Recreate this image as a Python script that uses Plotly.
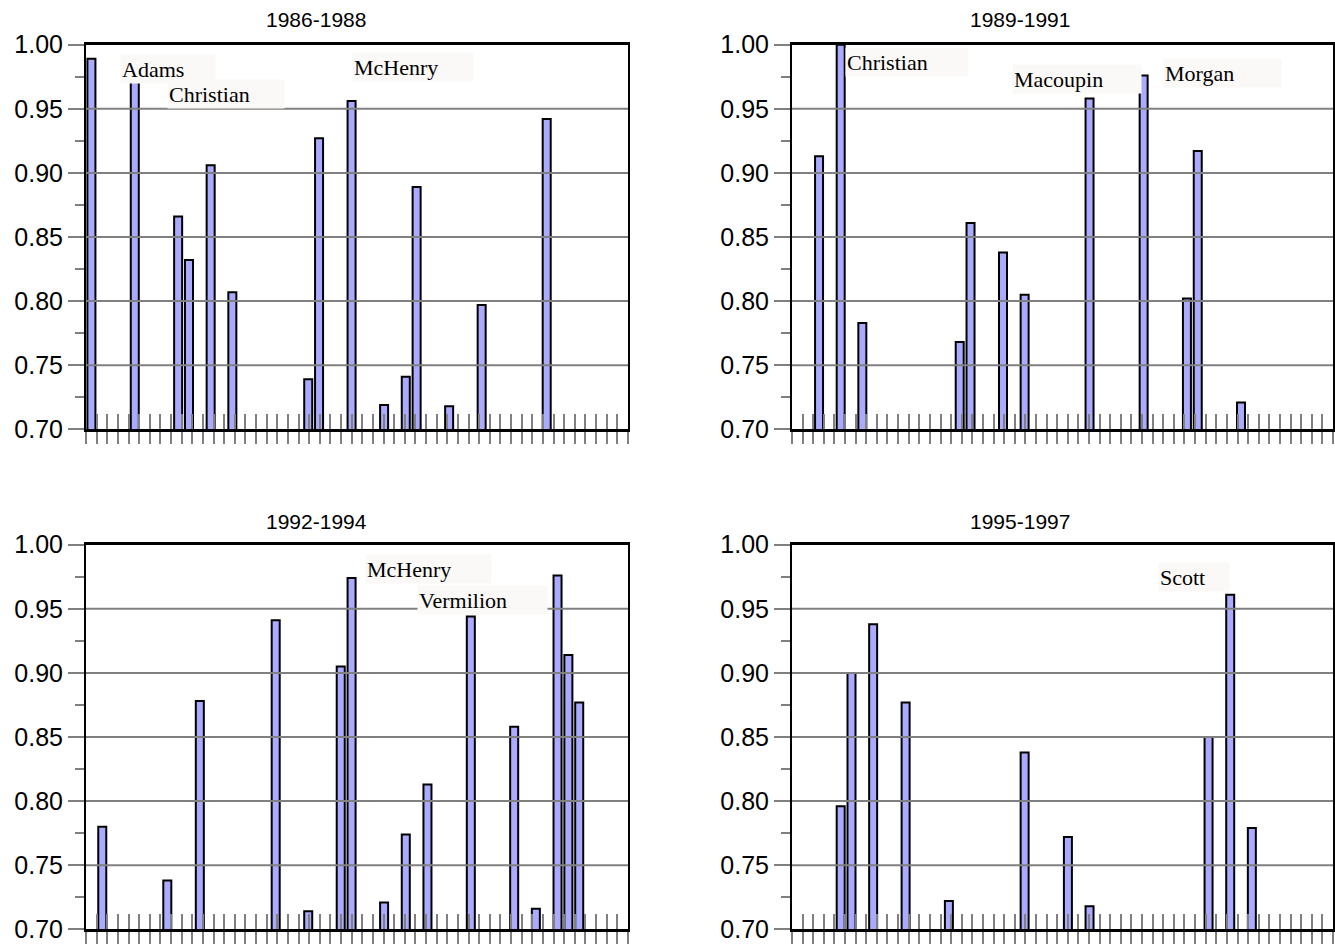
import plotly.graph_objects as go

# ---------------- data ----------------
periods = ["1986-1988", "1989-1991", "1992-1994", "1995-1997"]

pos_1986 = [0, 4, 8, 9, 11, 13, 20, 21, 24, 27, 29, 30, 33, 36, 42]
val_1986 = [0.989, 0.976, 0.866, 0.832, 0.906, 0.807, 0.739, 0.927, 0.956,
            0.719, 0.741, 0.889, 0.718, 0.797, 0.942]

pos_1989 = [2, 4, 6, 15, 16, 19, 21, 27, 32, 36, 37, 41]
val_1989 = [0.913, 1.000, 0.783, 0.768, 0.861, 0.838, 0.805, 0.958, 0.976,
            0.802, 0.917, 0.721]

pos_1992 = [1, 7, 10, 17, 20, 23, 24, 27, 29, 31, 35, 39, 41, 43, 44, 45]
val_1992 = [0.780, 0.738, 0.878, 0.941, 0.714, 0.905, 0.974, 0.721, 0.774,
            0.813, 0.944, 0.858, 0.716, 0.976, 0.914, 0.877]

pos_1995 = [4, 5, 7, 10, 14, 21, 25, 27, 38, 40, 42]
val_1995 = [0.796, 0.900, 0.938, 0.877, 0.722, 0.838, 0.772, 0.718, 0.850,
            0.961, 0.779]

labels_1986 = ["Adams", "Christian", "McHenry"]
labels_1989 = ["Christian", "Macoupin", "Morgan"]
labels_1992 = ["McHenry", "Vermilion"]
labels_1995 = ["Scott"]

y_ticks = [0.70, 0.75, 0.80, 0.85, 0.90, 0.95, 1.00]
y_ticklabels = ["0.70", "0.75", "0.80", "0.85", "0.90", "0.95", "1.00"]
n_categories = 50
n_tick_intervals = 51

# ---------------- layout helpers ----------------
W, H = 1335, 944
GRAY = "#808080"
BAR = "#AAAAFF"
SANS = "Liberation Sans, Arial, sans-serif"
SERIF = "Liberation Serif, Times New Roman, serif"

x_dom = [(86, 628), (792, 1333), (86, 628), (792, 1333)]
y_dom = [(44.7, 429.3), (44.7, 429.3), (544.7, 929.3), (544.7, 929.3)]

series = [(pos_1986, val_1986), (pos_1989, val_1989),
          (pos_1992, val_1992), (pos_1995, val_1995)]

fig = go.Figure()
layout = dict(
    width=W, height=H,
    margin=dict(l=0, r=0, t=0, b=0, pad=0),
    paper_bgcolor="white", plot_bgcolor="white",
    showlegend=False,
    font=dict(family=SANS, color="black"),
)
shapes = []
annotations = []

for i in range(4):
    p = i + 1
    q = i + 5
    xs, ys = series[i]
    xname = "x" if p == 1 else f"x{p}"
    yname = "y" if p == 1 else f"y{p}"
    fig.add_trace(go.Bar(
        x=xs, y=ys, xaxis=xname, yaxis=yname, width=0.74,
        marker=dict(color=BAR, line=dict(color="black", width=2)),
        hoverinfo="x+y",
    ))
    fig.add_trace(go.Scatter(x=[], y=[], xaxis=f"x{q}", yaxis=yname,
                             hoverinfo="skip"))

    xd = [x_dom[i][0] / W, x_dom[i][1] / W]
    yd = [1 - y_dom[i][1] / H, 1 - y_dom[i][0] / H]
    rng = [-0.5, n_categories - 0.5]
    dt = n_categories / n_tick_intervals

    layout[f"xaxis{p}"] = dict(
        domain=xd, anchor=yname, range=rng, showgrid=False, zeroline=False,
        showline=True, linecolor="black", linewidth=3, mirror=True,
        tickmode="linear", tick0=-0.5, dtick=dt, ticks="outside",
        ticklen=12, tickwidth=2, tickcolor=GRAY, showticklabels=False,
        fixedrange=True, automargin=False,
    )
    layout[f"xaxis{q}"] = dict(
        domain=xd, anchor=yname, overlaying=xname, range=rng,
        showgrid=False, zeroline=False, showline=False,
        tickmode="linear", tick0=-0.5, dtick=dt, ticks="inside",
        ticklen=15, tickwidth=2, tickcolor=GRAY, showticklabels=False,
        fixedrange=True, automargin=False,
    )
    layout[f"yaxis{p}"] = dict(
        domain=yd, anchor=xname, range=[0.70, 1.00], showgrid=False,
        zeroline=False, showline=True, linecolor="black", linewidth=2,
        mirror=True, tickmode="array", tickvals=y_ticks,
        ticktext=y_ticklabels, ticks="outside", ticklen=16, tickwidth=2,
        tickcolor=GRAY, tickfont=dict(family=SANS, size=25, color="black"),
        minor=dict(dtick=0.025, tick0=0.70, ticks="outside", ticklen=9,
                   tickwidth=2, tickcolor=GRAY, showgrid=False),
        fixedrange=True, automargin=False,
    )
    for v in y_ticks[1:-1]:
        shapes.append(dict(
            type="line", xref=f"{xname} domain", yref=yname,
            x0=0, x1=1, y0=v, y1=v, layer="above",
            line=dict(color=GRAY, width=2),
        ))

# panel titles
title_pos = [(316, 20), (1020, 20), (316, 521), (1020, 521)]
for t, (tx, ty) in zip(periods, title_pos):
    annotations.append(dict(
        text=t, xref="paper", yref="paper", x=tx / W, y=1 - ty / H,
        xanchor="center", yanchor="middle", showarrow=False,
        font=dict(family=SANS, size=21, color="black"),
    ))

# county labels (text boxes): (text, box left px, centre y px, box width px)
label_boxes = [
    (labels_1986[0], 120, 69, 92),
    (labels_1986[1], 167, 94, 114),
    (labels_1986[2], 352, 67, 118),
    (labels_1989[0], 845, 62, 120),
    (labels_1989[1], 1012, 79, 126),
    (labels_1989[2], 1163, 73, 115),
    (labels_1992[0], 365, 569, 123),
    (labels_1992[1], 417, 600, 127),
    (labels_1995[0], 1158, 577, 68),
]
for txt, lx, cy, bw in label_boxes:
    annotations.append(dict(
        text=txt, xref="paper", yref="paper", x=lx / W, y=1 - cy / H,
        xanchor="left", yanchor="middle", showarrow=False,
        width=bw, height=26, align="left", borderpad=1,
        bgcolor="#FAF9F7",
        font=dict(family=SERIF, size=22, color="black"),
    ))

layout["shapes"] = shapes
layout["annotations"] = annotations
fig.update_layout(**layout)
fig.write_html("out.html", config={"displayModeBar": False},
               post_script="document.body.style.margin='0px';")
